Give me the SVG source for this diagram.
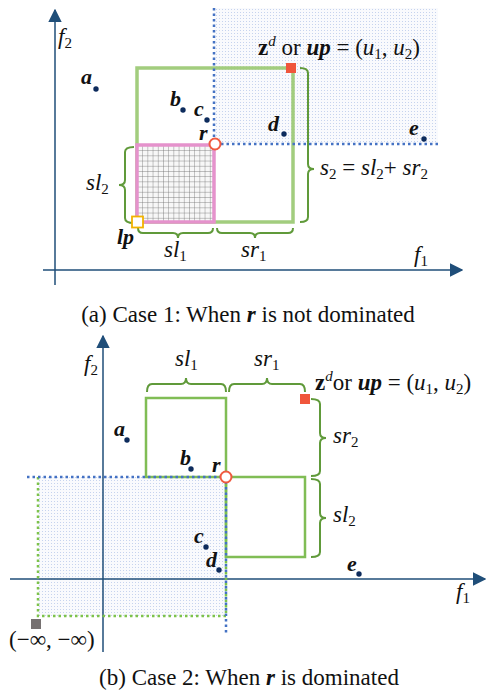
<svg xmlns="http://www.w3.org/2000/svg" width="488" height="693" viewBox="0 0 488 693">
<defs>
  <pattern id="dots" width="3" height="3" patternUnits="userSpaceOnUse">
    <rect width="3" height="3" fill="#f9fafd"/>
    <rect x="0" y="0" width="1" height="1" fill="#c6d3ee"/>
  </pattern>
  <pattern id="grid" width="5.2" height="5.2" patternUnits="userSpaceOnUse" x="137" y="145">
    <rect width="5.2" height="5.2" fill="#f7f7f7"/>
    <path d="M0,0 H5.2 M0,0 V5.2" stroke="#6f6f6f" stroke-width="0.8" fill="none"/>
  </pattern>
  <marker id="arr2" viewBox="0 0 10 10" refX="9" refY="5" markerWidth="9" markerHeight="9" markerUnits="strokeWidth" orient="auto">
    <path d="M0,0 L10,5 L0,10 z" fill="#1f4e79"/>
  </marker>
</defs>
<style>
  .axis { stroke: #1f4e79; stroke-width: 1.5; fill: none; }
  .bdot { stroke: #4472c4; stroke-width: 2.5; stroke-dasharray: 2.5 3; fill: none; }
  .gdot { stroke: #7dc24b; stroke-width: 2.5; stroke-dasharray: 2.5 3; fill: none; }
  .grect { stroke: #a2cd7e; stroke-width: 3.5; fill: none; }
  .gline { stroke: #80bd55; stroke-width: 2.5; fill: none; }
  .brace { stroke: #609a3a; stroke-width: 2; fill: none; }
  .pt { fill: #0d2b5c; }
  .lab { font-family: "Liberation Serif", "Times New Roman", serif; font-style: italic; font-weight: bold; font-size: 22px; fill: #111; }
  .m { font-family: "Liberation Serif", "Times New Roman", serif; font-size: 23px; fill: #111; }
  .it { font-style: italic; }
  .cap { font-family: "Liberation Serif", "Times New Roman", serif; font-size: 23px; fill: #111; }
</style>

<!-- ===== Panel (a) ===== -->
<g id="a-region">
  <rect x="214" y="8" width="224" height="136" fill="url(#dots)"/>
</g>
<g id="a-axes">
  <line class="axis" x1="55" y1="285" x2="55" y2="10" marker-end="url(#arr2)"/>
  <line class="axis" x1="43" y1="270" x2="462" y2="270" marker-end="url(#arr2)"/>
  <text class="m it" x="58" y="44">f<tspan font-size="15" dy="4" font-style="normal">2</tspan></text>
  <text class="m it" x="414" y="262">f<tspan font-size="15" dy="4" font-style="normal">1</tspan></text>
</g>
<g id="a-bigrect">
  <rect class="grect" x="137" y="68" width="156" height="154"/>
</g>
<g id="a-lprect">
  <rect x="137" y="145" width="77" height="77" fill="url(#grid)" stroke="#e592cc" stroke-width="3.5"/>
</g>
<g id="connectors">
  <path class="bdot" d="M214,8 V144 H438"/>
  <path class="brace" d="M300,68 q8,0 8,5 V164 q0,5 6,5 q-6,0 -6,5 V217 q0,5 -8,5"/>
  <path class="brace" d="M134,147 q-9,0 -9,5 V180 q0,5 -6,5 q6,0 6,5 V218 q0,5 9,5"/>
  <path class="brace" d="M138,228 q0,5 5,5 H173 q5,0 5,5 q0,-5 5,-5 H208 q5,0 5,-5"/>
  <path class="brace" d="M217,228 q0,5 5,5 H250 q5,0 5,5 q0,-5 5,-5 H288 q5,0 5,-5"/>
</g>
<g id="a-points">
  <circle class="pt" cx="96" cy="89" r="2.7"/><text class="lab" x="81" y="84">a</text>
  <circle class="pt" cx="183" cy="110" r="2.7"/><text class="lab" x="170" y="106">b</text>
  <circle class="pt" cx="207" cy="120" r="2.7"/><text class="lab" x="194" y="116">c</text>
  <circle class="pt" cx="284" cy="134" r="2.7"/><text class="lab" x="268" y="131">d</text>
  <circle class="pt" cx="424" cy="139" r="2.7"/><text class="lab" x="409" y="135">e</text>
</g>
<g id="a-r">
  <circle cx="215" cy="144" r="5.5" fill="#fff" stroke="#f05a40" stroke-width="2"/>
  <text class="lab" x="199" y="140">r</text>
</g>
<g id="a-lp">
  <rect x="132" y="216.5" width="11" height="11" fill="#fff" stroke="#f2b300" stroke-width="1.8"/>
  <text class="lab" x="117" y="244">lp</text>
</g>
<g id="a-up">
  <rect x="286" y="63" width="10" height="10" fill="#f0563c"/>
  <text class="m" x="258" y="55"><tspan font-weight="bold">z</tspan><tspan class="it" font-size="15" dy="-9">d</tspan><tspan dy="9"> or </tspan><tspan font-weight="bold" font-style="italic">up</tspan> = (<tspan class="it">u</tspan><tspan font-size="15" dy="4">1</tspan><tspan dy="-4">, </tspan><tspan class="it">u</tspan><tspan font-size="15" dy="4">2</tspan><tspan dy="-4">)</tspan></text>
</g>
<g id="a-labels">
  <text class="m" x="320" y="175"><tspan class="it">s</tspan><tspan font-size="15" dy="4">2</tspan><tspan dy="-4"> = </tspan><tspan class="it">sl</tspan><tspan font-size="15" dy="4">2</tspan><tspan dy="-4">+ </tspan><tspan class="it">sr</tspan><tspan font-size="15" dy="4">2</tspan></text>
  <text class="m" x="86" y="190"><tspan class="it">sl</tspan><tspan font-size="15" dy="4">2</tspan></text>
  <text class="m" x="164" y="257"><tspan class="it">sl</tspan><tspan font-size="15" dy="4">1</tspan></text>
  <text class="m" x="241" y="257"><tspan class="it">sr</tspan><tspan font-size="15" dy="4">1</tspan></text>
</g>
<g id="a-caption">
  <text class="cap" x="248" y="322" text-anchor="middle">(a) Case 1: When <tspan font-weight="bold" font-style="italic">r</tspan> is not dominated</text>
</g>

<!-- ===== Panel (b) ===== -->
<g id="b-region">
  <rect x="38" y="477" width="188" height="139" fill="url(#dots)"/>
</g>
<g id="b-axes">
  <line class="axis" x1="103" y1="652" x2="103" y2="336" marker-end="url(#arr2)"/>
  <line class="axis" x1="10" y1="579" x2="485" y2="579" marker-end="url(#arr2)"/>
  <text class="m it" x="84" y="371">f<tspan font-size="15" dy="4" font-style="normal">2</tspan></text>
  <text class="m it" x="456" y="599">f<tspan font-size="15" dy="4" font-style="normal">1</tspan></text>
</g>
<g id="b-rects">
  <path class="gline" d="M146,477 V398 H226 V477 Z"/>
  <path class="gline" d="M226,477 H305 V557 H226 Z"/>
</g>
<g id="b-lines">
  <path class="gdot" d="M38,477 V616 H226 V477"/>
  <path class="bdot" d="M27,477 H226 V634"/>
  <path class="brace" d="M147,392 q0,-8 5,-8 H181 q5,0 5,-6 q0,6 5,6 H221 q5,0 5,8"/>
  <path class="brace" d="M229,392 q0,-8 5,-8 H262 q5,0 5,-6 q0,6 5,6 H300 q5,0 5,8"/>
  <path class="brace" d="M311,399 q9,0 9,5 V433 q0,5 6,5 q-6,0 -6,5 V471 q0,5 -9,5"/>
  <path class="brace" d="M311,479 q9,0 9,5 V513 q0,5 6,5 q-6,0 -6,5 V552 q0,5 -9,5"/>
</g>
<g id="b-points">
  <circle class="pt" cx="127" cy="440" r="2.7"/><text class="lab" x="114" y="436">a</text>
  <circle class="pt" cx="191" cy="469" r="2.7"/><text class="lab" x="180" y="465">b</text>
  <circle class="pt" cx="206" cy="547" r="2.7"/><text class="lab" x="194" y="543">c</text>
  <circle class="pt" cx="219" cy="570" r="2.7"/><text class="lab" x="206" y="567">d</text>
  <circle class="pt" cx="359" cy="574" r="2.7"/><text class="lab" x="347" y="571">e</text>
</g>
<g id="b-r">
  <circle cx="226" cy="477" r="5.5" fill="#fff" stroke="#f05a40" stroke-width="2"/>
  <text class="lab" x="212" y="472">r</text>
</g>
<g id="b-up">
  <rect x="300" y="394" width="10" height="10" fill="#f0563c"/>
  <text class="m" x="315" y="390"><tspan font-weight="bold">z</tspan><tspan class="it" font-size="15" dy="-9">d</tspan><tspan dy="9">or </tspan><tspan font-weight="bold" font-style="italic">up</tspan> = (<tspan class="it">u</tspan><tspan font-size="15" dy="4">1</tspan><tspan dy="-4">, </tspan><tspan class="it">u</tspan><tspan font-size="15" dy="4">2</tspan><tspan dy="-4">)</tspan></text>
</g>
<g id="b-inf">
  <rect x="31" y="619" width="10" height="10" fill="#767171"/>
  <text class="m" x="9" y="647">(−∞, −∞)</text>
</g>
<g id="b-labels">
  <text class="m" x="175" y="366"><tspan class="it">sl</tspan><tspan font-size="15" dy="4">1</tspan></text>
  <text class="m" x="254" y="366"><tspan class="it">sr</tspan><tspan font-size="15" dy="4">1</tspan></text>
  <text class="m" x="333" y="443"><tspan class="it">sr</tspan><tspan font-size="15" dy="4">2</tspan></text>
  <text class="m" x="333" y="522"><tspan class="it">sl</tspan><tspan font-size="15" dy="4">2</tspan></text>
</g>
<g id="b-caption">
  <text class="cap" x="249" y="685" text-anchor="middle">(b) Case 2: When <tspan font-weight="bold" font-style="italic">r</tspan> is dominated</text>
</g>
</svg>
